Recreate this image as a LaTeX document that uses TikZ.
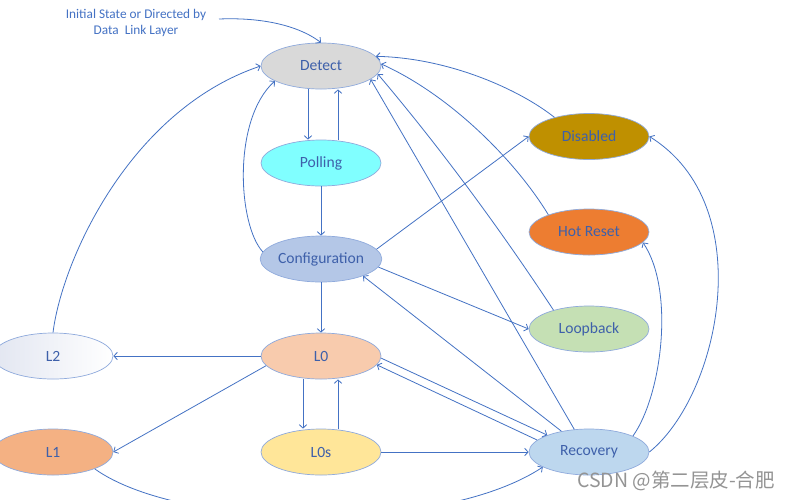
\documentclass[tikz,border=0pt]{standalone}
\usepackage{fontspec}
\setmainfont{Carlito}
\newfontfamily\cjkfont{Noto Sans CJK SC}
\usetikzlibrary{shapes.geometric,arrows.meta}
\definecolor{lineblue}{RGB}{68,114,196}
\definecolor{nodetext}{RGB}{62,96,170}
\definecolor{borderc}{RGB}{143,170,220}
\definecolor{detectc}{RGB}{217,217,217}
\definecolor{pollc}{RGB}{128,255,255}
\definecolor{confc}{RGB}{180,199,231}
\definecolor{lzc}{RGB}{248,203,173}
\definecolor{lzsc}{RGB}{255,230,153}
\definecolor{ltwoc}{RGB}{226,230,241}
\definecolor{lonec}{RGB}{244,177,131}
\definecolor{disc}{RGB}{191,144,0}
\definecolor{hotc}{RGB}{237,125,49}
\definecolor{loopc}{RGB}{197,224,180}
\definecolor{recc}{RGB}{189,215,238}
\begin{document}
\begin{tikzpicture}[x=1pt,y=-1pt,
  state/.style={ellipse, draw=borderc, line width=0.7pt, minimum width=120pt, minimum height=46pt, inner sep=0pt,
    text=nodetext, font=\fontsize{15.6}{18}\selectfont},
  arr/.style={draw=lineblue, line width=0.8pt, -{Straight Barb[length=3.5pt,width=7.5pt]}}]
\useasboundingbox (0,0) rectangle (791,499);
\clip (0,0) rectangle (791,499);
\fill[white] (0,0) rectangle (791,499);

\node[state, fill=detectc] (detect) at (321,66) {Detect};
\node[state, fill=pollc] (polling) at (321,163) {Polling};
\node[state, fill=confc] (config) at (321,259) {Configuration};
\node[state, fill=lzc] (l0) at (321,356) {L0};
\node[state, fill=lzsc] (l0s) at (321,452) {L0s};
\node[state, left color=ltwoc, middle color=white, right color=white] (l2) at (53,356) {L2};
\node[state, fill=lonec] (l1) at (53,452) {L1};
\node[state, fill=disc] (disabled) at (589,136.5) {Disabled};
\node[state, fill=hotc] (hot) at (589,232) {Hot Reset};
\node[state, fill=loopc] (loop) at (589,329) {Loopback};
\node[state, fill=recc] (rec) at (589,452) {Recovery};

\node[align=center, text=lineblue, font=\fontsize{13.3}{16.5}\selectfont] (init) at (136,23) {Initial State or Directed by\\Data\ \ Link Layer};
\coordinate (initstart) at (219,19);
\draw[arr] (initstart) .. controls (268,17) and (302,28) .. (detect.north);

% vertical links
\draw[arr] ([xshift=-13pt]detect.south) -- ([xshift=-13pt]polling.north);
\draw[arr] ([xshift=17pt]polling.north) -- ([xshift=17pt]detect.south);
\draw[arr] (polling.south) -- (config.north);
\draw[arr] (config.south) -- (l0.north);
\draw[arr] ([xshift=-18pt]l0.south) -- ([xshift=-18pt]l0s.north);
\draw[arr] ([xshift=17pt]l0s.north) -- ([xshift=17pt]l0.south);

% left side
\draw[arr] (config.173) .. controls (238,225) and (232,120) .. (detect.198);
\draw[arr] (l2.north) .. controls (62,260) and (130,110) .. (detect.west);
\draw[arr] (l0.west) -- (l2.east);
\draw[arr] (l0.190) -- (l1.east);
\draw[arr] (l1.338) .. controls (180,530) and (440,535) .. (rec.198);
\draw[arr] (l0s.east) -- (rec.west);

% L0 <-> Recovery
\draw[arr] (l0.-2) -- (rec.158);
\draw[arr] (rec.167) -- (l0.-9);

% to configuration / from configuration
\draw[arr] (rec.143) -- (config.-22);
\draw[arr] (config.10) -- (disabled.west);
\draw[arr] (config.-8) -- (loop.west);

% to detect from right
\draw[arr] (rec.123) -- (detect.-15);
\draw[arr] (loop.152) .. controls (500,229) and (442,150) .. (detect.-8);
\draw[arr] (hot.157) .. controls (515,160) and (450,95) .. (detect.2);
\draw[arr] (disabled.151) .. controls (520,90) and (450,58) .. (detect.10);

% right side
\draw[arr] (rec.20) .. controls (662,395) and (675,290) .. (hot.-11);
\draw[arr] (rec.east) .. controls (720,395) and (760,205) .. (disabled.east);

\node[text=black!42, font=\cjkfont\fontsize{19.5}{19.5}\selectfont, anchor=west, inner sep=0pt] (wm) at (577,481) {CSDN @第二层皮-合肥};
\end{tikzpicture}
\end{document}
